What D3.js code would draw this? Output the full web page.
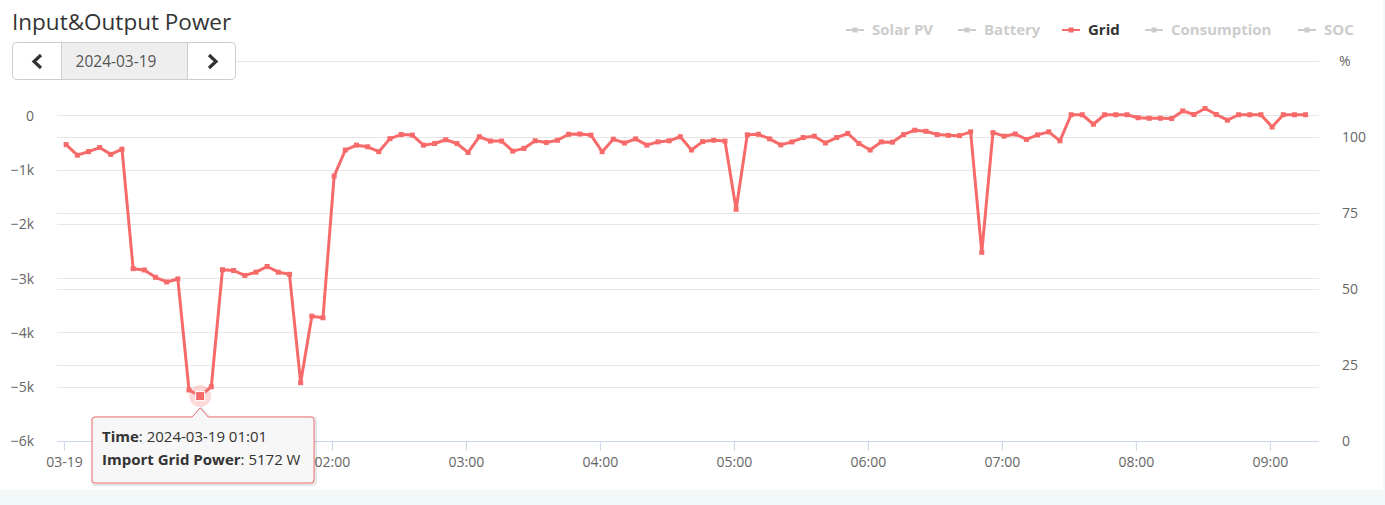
<!DOCTYPE html>
<html><head><meta charset="utf-8">
<script src="https://cdn.jsdelivr.net/npm/d3@7"></script>
<style>
html,body{margin:0;padding:0;background:#f2f7f7;}
svg{display:block;}
</style></head>
<body>
<svg id="chart" width="1385" height="505"></svg>
<script>
// ---- data ----
const title = "Input&Output Power";
const dateLabel = "2024-03-19";
const legendItems = ["Solar PV", "Battery", "Grid", "Consumption", "SOC"];
const activeSeries = "Grid";
const times = [
 "00:01","00:06","00:11","00:16","00:21","00:26","00:31","00:36","00:41","00:46","00:51","00:56",
 "01:01","01:06","01:11","01:16","01:21","01:26","01:31","01:36","01:41","01:46","01:51","01:56",
 "02:01","02:06","02:11","02:16","02:21","02:26","02:31","02:36","02:41","02:46","02:51","02:56",
 "03:01","03:06","03:11","03:16","03:21","03:26","03:31","03:36","03:41","03:46","03:51","03:56",
 "04:01","04:06","04:11","04:16","04:21","04:26","04:31","04:36","04:41","04:46","04:51","04:56",
 "05:01","05:06","05:11","05:16","05:21","05:26","05:31","05:36","05:41","05:46","05:51","05:56",
 "06:01","06:06","06:11","06:16","06:21","06:26","06:31","06:36","06:41","06:46","06:51","06:56",
 "07:01","07:06","07:11","07:16","07:21","07:26","07:31","07:36","07:41","07:46","07:51","07:56",
 "08:01","08:06","08:11","08:16","08:21","08:26","08:31","08:36","08:41","08:46","08:51","08:56",
 "09:01","09:06","09:11","09:16"];
const gridPower = [
 -540,-735,-670,-595,-720,-625,-2825,-2850,-2985,-3070,-3015,-5060,
 -5172,-5000,-2845,-2860,-2950,-2890,-2785,-2890,-2930,-4925,-3700,-3730,
 -1120,-640,-550,-580,-670,-430,-355,-365,-550,-520,-450,-520,
 -685,-395,-475,-475,-660,-610,-470,-500,-460,-350,-345,-365,
 -670,-440,-510,-435,-550,-490,-470,-395,-640,-485,-460,-475,
 -1730,-360,-350,-435,-545,-490,-410,-385,-510,-410,-335,-520,
 -640,-490,-495,-355,-275,-295,-355,-370,-375,-305,-2525,-320,
 -385,-345,-445,-360,-305,-470,10,10,-165,10,10,10,
 -45,-55,-55,-60,80,15,125,15,-90,10,10,10,
 -215,10,10,10];
const leftTicks = [-6000,-5000,-4000,-3000,-2000,-1000,0,1000];
const leftTickLabels = ["\u22126k","\u22125k","\u22124k","\u22123k","\u22122k","\u22121k","0","1k"];
const rightTicks = [0,25,50,75,100];
const rightTickLabels = ["0","25","50","75","100"];
const rightTitle = "%";
const xTicks = ["00:00","01:00","02:00","03:00","04:00","05:00","06:00","07:00","08:00","09:00"];
const xTickLabels = ["03-19","01:00","02:00","03:00","04:00","05:00","06:00","07:00","08:00","09:00"];
const hoverIndex = 12;
const tooltipTime = "2024-03-19 01:01";
const tooltipLabel = "Import Grid Power";
const tooltipValue = "5172 W";

// ---- drawing ----
const FONT = "'Open Sans', 'Noto Sans', sans-serif";
const RED = "#f76a6a";
const toMin = s => { const [h,m] = s.split(":").map(Number); return h*60+m; };
const svg = d3.select("#chart").style("font-family", FONT);

svg.append("rect").attr("x",0).attr("y",0).attr("width",1383).attr("height",490).attr("fill","#fff");

const L = 57, R = 1319, T = 61, B = 441;
const x = d3.scaleLinear().domain([-3.1, 562]).range([L, R]);
const y = d3.scaleLinear().domain([-6000, 1000]).range([B, T]);
const y2 = d3.scaleLinear().domain([0, 125]).range([B, T]);

// grid lines
const gridG = svg.append("g");
gridG.selectAll("line.l").data(leftTicks.filter(v=>v>-6000)).join("line")
  .attr("x1", L).attr("x2", R).attr("y1", d=>Math.round(y(d))+0.5).attr("y2", d=>Math.round(y(d))+0.5)
  .attr("stroke", "#e6e6e6");
gridG.selectAll("line.r").data(rightTicks.filter(v=>v>0)).join("line")
  .attr("x1", L).attr("x2", R).attr("y1", d=>Math.round(y2(d))+0.5).attr("y2", d=>Math.round(y2(d))+0.5)
  .attr("stroke", "#e6e6e6");

// left axis labels
const yAxis = d3.axisLeft(y).tickValues(leftTicks).tickSize(0)
  .tickFormat((d,i)=>leftTickLabels[i]);
const gy = svg.append("g").attr("transform", `translate(${L-20},0)`).call(yAxis);
gy.select(".domain").remove();
gy.selectAll("text").attr("fill","#666").attr("font-size","14px").attr("font-family",FONT).attr("dx",0).attr("dy","0.35em");

// right axis labels
const yAxis2 = d3.axisRight(y2).tickValues(rightTicks).tickSize(0)
  .tickFormat((d,i)=>rightTickLabels[i]);
const gy2 = svg.append("g").attr("transform", `translate(${R+20},0)`).call(yAxis2);
gy2.select(".domain").remove();
gy2.selectAll("text").attr("fill","#666").attr("font-size","14px").attr("font-family",FONT).attr("dx",0).attr("dy","0.35em");
svg.append("text").attr("x", R+20).attr("y", T).attr("dy","0.35em").attr("fill","#666")
  .attr("font-size","14px").text(rightTitle);

// x axis
const xAxis = d3.axisBottom(x).tickValues(xTicks.map(toMin)).tickSize(10).tickPadding(6)
  .tickFormat((d,i)=>xTickLabels[i]);
const gx = svg.append("g").attr("transform", `translate(0,${B})`).call(xAxis);
gx.select(".domain").attr("stroke","#ccd6eb").attr("d", `M${L},0.5H${R}`);
gx.selectAll(".tick line").attr("stroke","#ccd6eb");
gx.selectAll("text").attr("fill","#666").attr("font-size","14px").attr("font-family",FONT);

// line
const pts = times.map((t,i)=>({t:toMin(t), v:gridPower[i]}));
svg.append("path").datum(pts)
  .attr("d", d3.line().x(d=>x(d.t)).y(d=>y(d.v)))
  .attr("fill","none").attr("stroke",RED).attr("stroke-width",3).attr("stroke-linejoin","round");
svg.append("g").selectAll("rect").data(pts).join("rect")
  .attr("x", d=>x(d.t)-2.5).attr("y", d=>y(d.v)-2.5).attr("width",5).attr("height",5).attr("fill",RED);

// hover
const hp = pts[hoverIndex];
svg.append("circle").attr("cx", x(hp.t)).attr("cy", y(hp.v)).attr("r", 11).attr("fill", RED).attr("fill-opacity",0.25);
svg.append("rect").attr("x", x(hp.t)-4.5).attr("y", y(hp.v)-4.5).attr("width",9).attr("height",9)
  .attr("fill",RED).attr("stroke","#fff").attr("stroke-width",1);

// tooltip
const tx = 92, ty = 417, tw = 222, th = 66, ax = x(hp.t);
const tipG = svg.append("g");
const tipPath = `M${tx+3},${ty} H${ax-8} L${ax},${ty-9} L${ax+8},${ty} H${tx+tw-3} Q${tx+tw},${ty} ${tx+tw},${ty+3} V${ty+th-3} Q${tx+tw},${ty+th} ${tx+tw-3},${ty+th} H${tx+3} Q${tx},${ty+th} ${tx},${ty+th-3} V${ty+3} Q${tx},${ty} ${tx+3},${ty} Z`;
tipG.append("path").attr("d", tipPath).attr("transform","translate(1,1)").attr("fill","none")
  .attr("stroke","#000").attr("stroke-opacity",0.1).attr("stroke-width",4);
tipG.append("path").attr("d", tipPath).attr("fill","#f7f7f7").attr("fill-opacity",0.94).attr("stroke","#f07272").attr("stroke-width",1);
const t1 = tipG.append("text").attr("x", tx+10).attr("y", ty+25).attr("font-size","15px").attr("fill","#333");
t1.append("tspan").attr("font-weight","bold").text("Time");
t1.append("tspan").text(": " + tooltipTime);
const t2 = tipG.append("text").attr("x", tx+10).attr("y", ty+48).attr("font-size","15px").attr("fill","#333");
t2.append("tspan").attr("font-weight","bold").text(tooltipLabel);
t2.append("tspan").text(": " + tooltipValue);

// title
svg.append("text").attr("x", 12).attr("y", 30).attr("font-size","22.5px").attr("fill","#333").text(title);

// date picker
const dp = svg.append("g");
dp.append("rect").attr("x",12.5).attr("y",42.5).attr("width",223).attr("height",37).attr("rx",4).attr("fill","#fff").attr("stroke","#ccc");
dp.append("rect").attr("x",61.5).attr("y",43).attr("width",126).attr("height",36).attr("fill","#eee");
dp.append("line").attr("x1",61.5).attr("x2",61.5).attr("y1",43).attr("y2",79).attr("stroke","#ccc");
dp.append("line").attr("x1",187.5).attr("x2",187.5).attr("y1",43).attr("y2",79).attr("stroke","#ccc");
dp.append("text").attr("x",116).attr("y",67).attr("text-anchor","middle").attr("font-size","15.5px").attr("fill","#555").text(dateLabel);
dp.append("path").attr("d","M41,55 L34,61.5 L41,68").attr("fill","none").attr("stroke","#333").attr("stroke-width",3.2);
dp.append("path").attr("d","M209,55 L216,61.5 L209,68").attr("fill","none").attr("stroke","#333").attr("stroke-width",3.2);

// legend
const legendX = [846, 958, 1062, 1145, 1298];
const lg = svg.append("g");
legendItems.forEach((name,i)=>{
  const active = name === activeSeries;
  const c = active ? RED : "#cccccc";
  const g = lg.append("g").attr("transform", `translate(${legendX[i]},30)`);
  g.append("line").attr("x1",0).attr("x2",18).attr("y1",0).attr("y2",0).attr("stroke",c).attr("stroke-width",2);
  g.append("rect").attr("x",6.5).attr("y",-2.5).attr("width",5).attr("height",5).attr("fill",c);
  g.append("text").attr("x",26).attr("y",0).attr("dy","0.35em").attr("font-size","15px").attr("font-weight","bold")
    .attr("fill", active ? "#333" : "#cccccc").text(name);
});
</script>
</body></html>
